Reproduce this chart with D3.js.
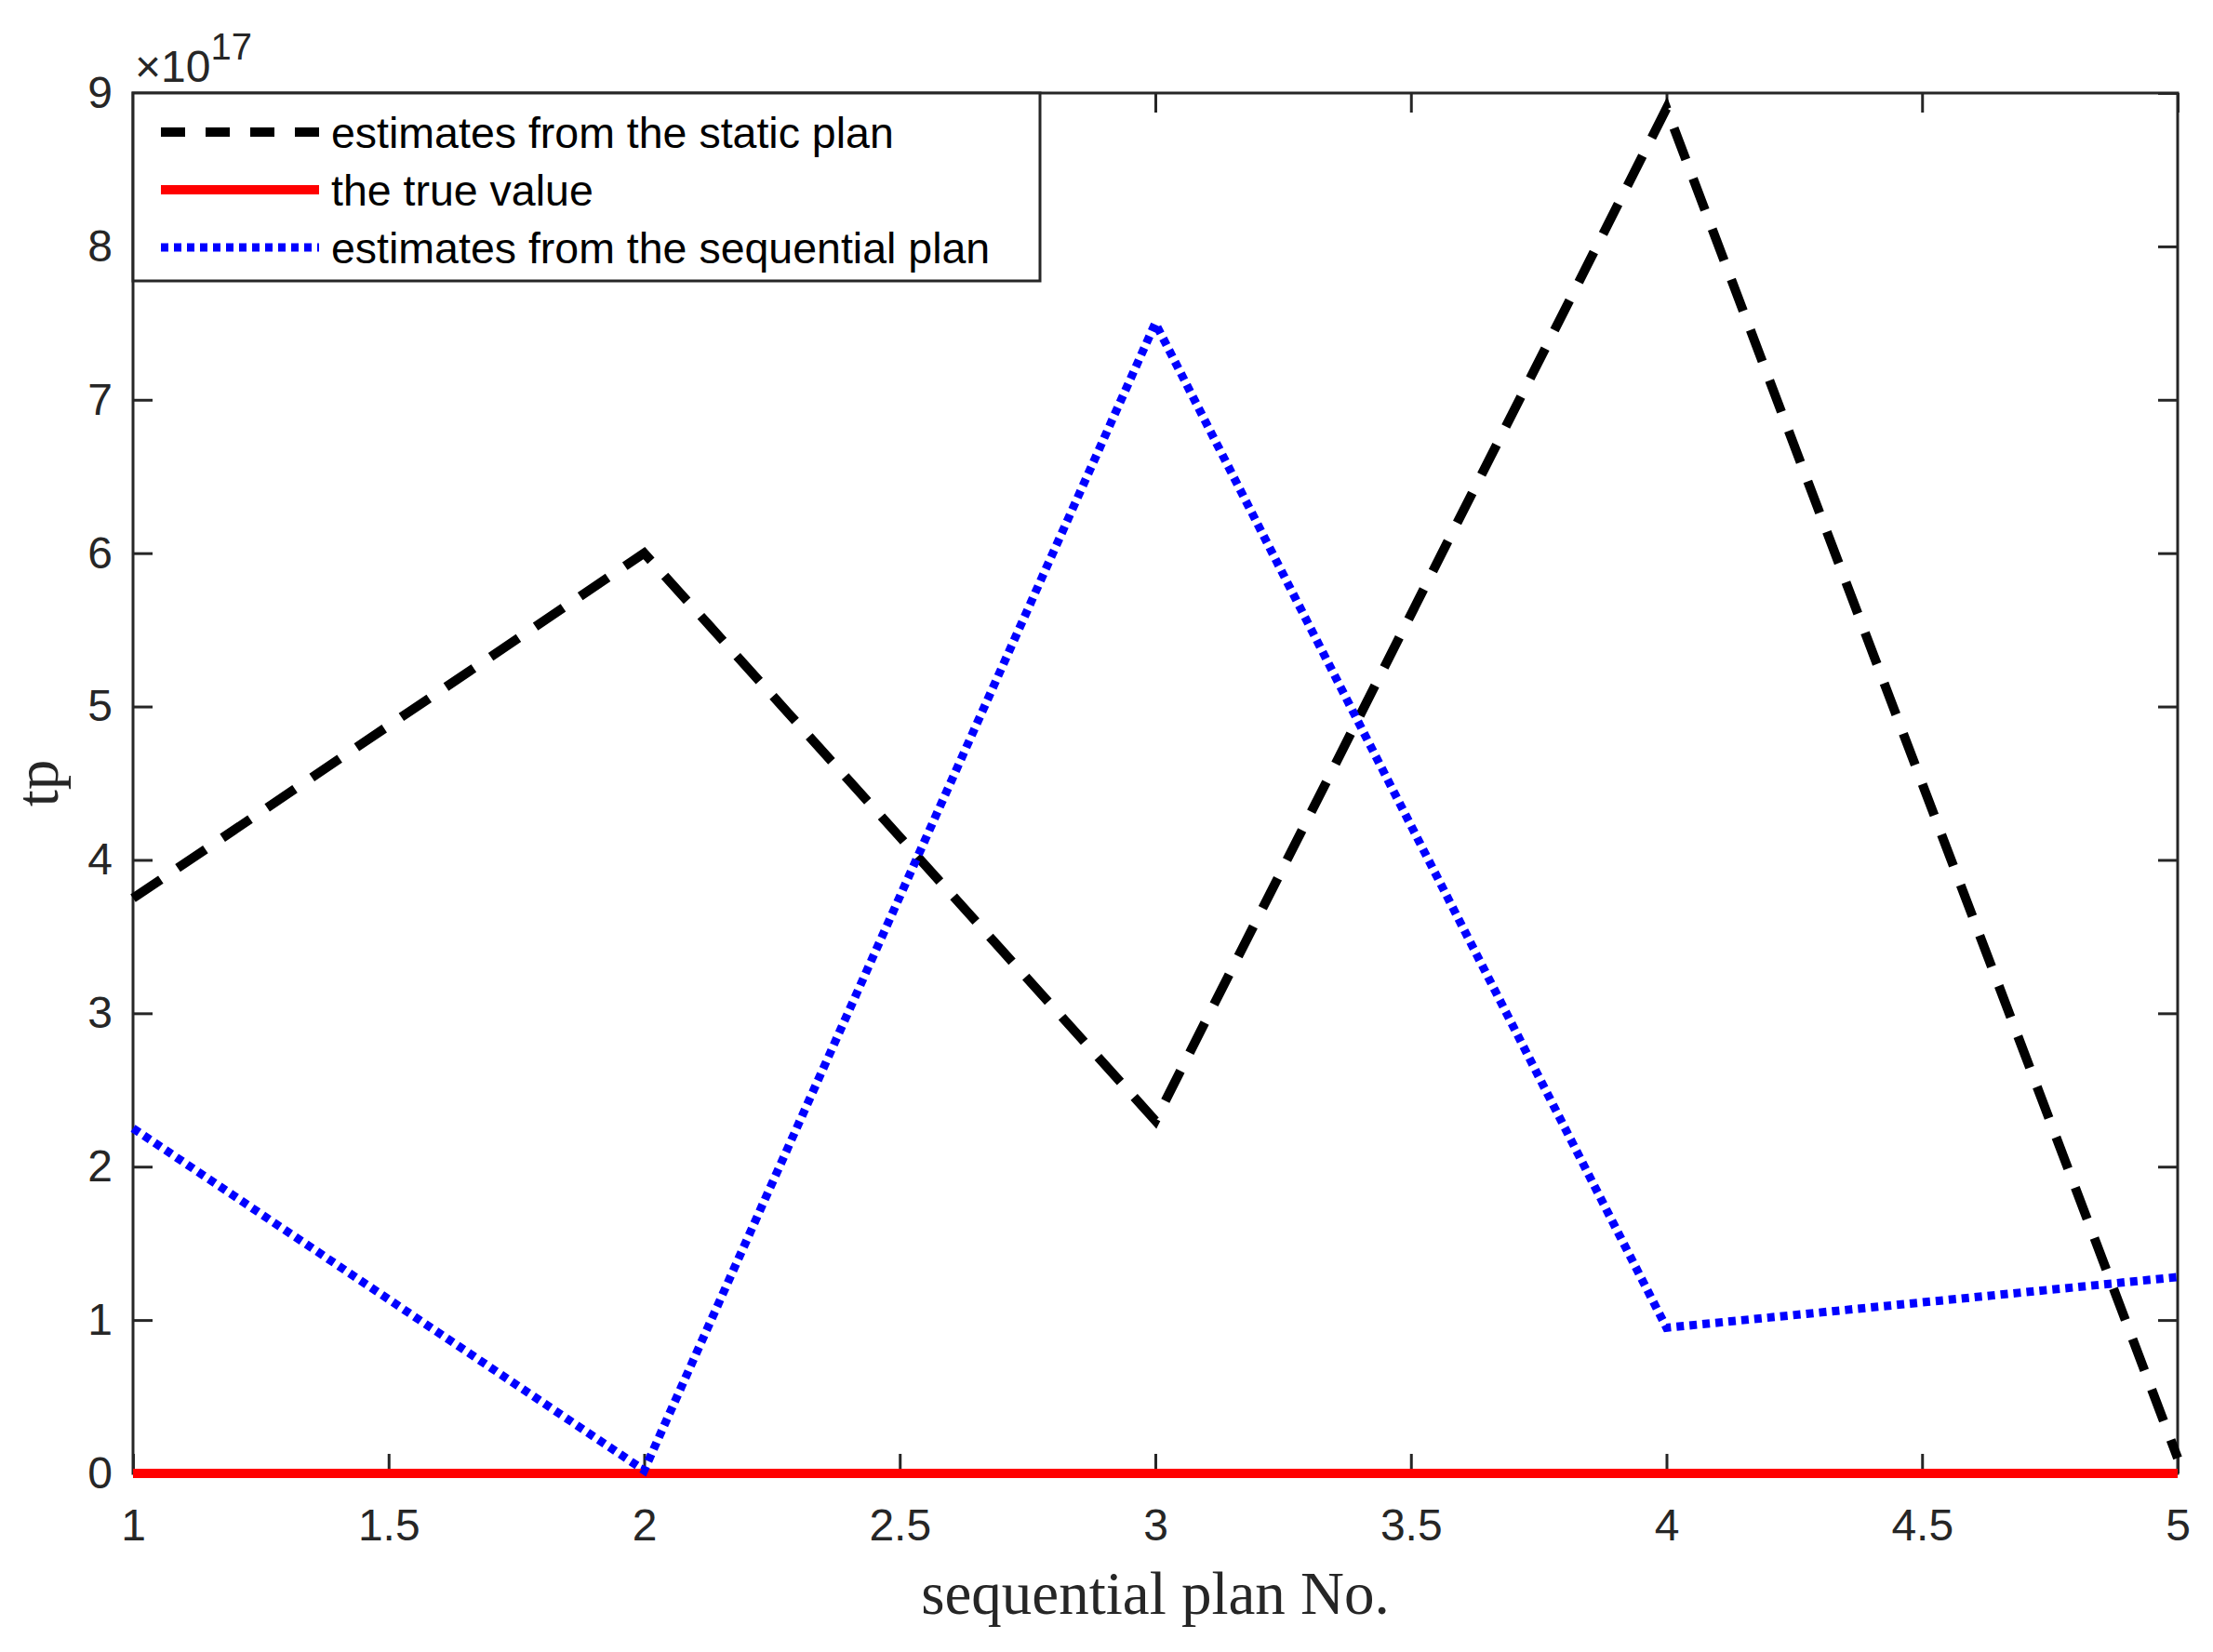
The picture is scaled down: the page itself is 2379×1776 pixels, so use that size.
<!DOCTYPE html><html><head><meta charset="utf-8">
<script src="https://cdn.jsdelivr.net/npm/d3@7"></script>
<style>body{margin:0;background:#fff}</style></head><body>
<svg id="c" width="2379" height="1776"></svg>
<script>
const planNo=[1,2,3,4,5];
const staticEst=[3.75,6.0,2.3,8.9,0.1];
const trueVal=[0,0,0,0,0];
const seqEst=[2.25,0.02,7.5,0.95,1.28];
const xTicks=[1,1.5,2,2.5,3,3.5,4,4.5,5];
const yTicks=[0,1,2,3,4,5,6,7,8,9];
const W=2379,H=1776,L=143,R=2341,T=100,B=1584;
const svg=d3.select("#c");
const x=d3.scaleLinear().domain([1,5]).range([L,R]);
const y=d3.scaleLinear().domain([0,9]).range([B,T]);
const ax="#262626",tf="'Liberation Sans',Arial,sans-serif";
svg.append("rect").attr("width",W).attr("height",H).attr("fill","#fff");
const g=svg.append("g");
const tl=21;
const gx=g.append("g").attr("transform",`translate(0,${B})`).call(d3.axisBottom(x).tickValues(xTicks).tickSize(-tl).tickPadding(38).tickFormat(d3.format("")));
const gx2=g.append("g").attr("transform",`translate(0,${T})`).call(d3.axisTop(x).tickValues(xTicks).tickSize(-tl).tickFormat(""));
const gy=g.append("g").attr("transform",`translate(${L},0)`).call(d3.axisLeft(y).tickValues(yTicks).tickSize(-tl).tickPadding(22).tickFormat(d3.format("")));
const gy2=g.append("g").attr("transform",`translate(${R},0)`).call(d3.axisRight(y).tickValues(yTicks).tickSize(-tl).tickFormat(""));
[gx,gx2,gy,gy2].forEach(a=>{a.select(".domain").remove();a.selectAll("line").attr("stroke",ax).attr("stroke-width",3);a.selectAll("text").attr("fill",ax).attr("font-family",tf).attr("font-size",48);});
gx.selectAll("text").attr("dy","0.71em");
g.append("rect").attr("x",L).attr("y",T).attr("width",R-L).attr("height",B-T).attr("fill","none").attr("stroke",ax).attr("stroke-width",3);
const line=vals=>d3.line().x((d,i)=>x(planNo[i])).y(d=>y(d))(vals);
const series=[
 {name:"estimates from the static plan",v:staticEst,c:"#000",dash:"36,22",w:10},
 {name:"the true value",v:trueVal,c:"#ff0000",dash:null,w:10},
 {name:"estimates from the sequential plan",v:seqEst,c:"#0000ff",dash:"8,6",w:9}];
series.forEach(s=>{g.append("path").attr("d",line(s.v)).attr("fill","none").attr("stroke",s.c).attr("stroke-width",s.w).attr("stroke-dasharray",s.dash);});
const lg=g.append("g");
lg.append("rect").attr("x",L).attr("y",T).attr("width",975).attr("height",202).attr("fill","#fff").attr("stroke",ax).attr("stroke-width",3);
series.forEach((s,i)=>{const yy=T+42+i*62;
 lg.append("line").attr("x1",L+30).attr("x2",L+200).attr("y1",yy).attr("y2",yy).attr("stroke",s.c).attr("stroke-width",s.w).attr("stroke-dasharray",s.dash?(s.c=="#000"?"26,22":"8,6"):null);
 lg.append("text").attr("x",L+213).attr("y",yy).attr("dy","0.36em").attr("font-family",tf).attr("font-size",46.5).attr("fill","#000").text(s.name);});
const ex=svg.append("text").attr("x",L+2).attr("y",T-12).attr("font-family",tf).attr("fill",ax).attr("font-size",48);
ex.append("tspan").text("×10");
ex.append("tspan").attr("font-size",40).attr("dy",-24).text("17");
svg.append("text").attr("x",(L+R)/2).attr("y",1735).attr("text-anchor","middle").attr("font-family","'Liberation Serif','Times New Roman',serif").attr("font-size",65).attr("fill",ax).text("sequential plan No.");
svg.append("text").attr("transform",`translate(62,${(T+B)/2}) rotate(-90)`).attr("text-anchor","middle").attr("font-family","'Liberation Serif','Times New Roman',serif").attr("font-size",65).attr("fill",ax).text("tp");
</script></body></html>
